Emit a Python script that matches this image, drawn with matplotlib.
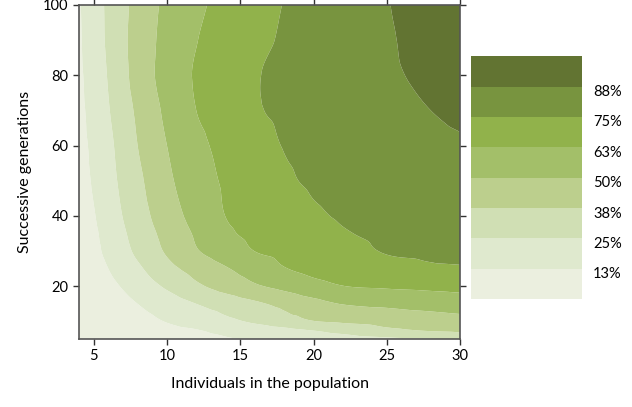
import numpy as np
import matplotlib
matplotlib.use("Agg")
import matplotlib.pyplot as plt
import matplotlib.tri as mtri
from matplotlib.colors import ListedColormap, BoundaryNorm
from matplotlib.transforms import ScaledTranslation

plt.rcParams['font.family'] = ['Lato', 'DejaVu Sans']

# Population size (x) and number of generations (y)
individuals = [4, 5, 6, 7, 8, 10, 12, 14, 16, 18, 20, 22, 25, 28, 30]
generations = [5, 7.5, 10, 15, 20, 25, 30, 35, 40, 50, 60, 70, 80, 90, 100]

# Success rate (%) per generation row, one value per population size
success = [
    [1.0, 1.5, 2.5, 3.5, 4.5, 7.0, 9.5, 11.5, 13.4, 15.5, 17.5, 19.5, 22.5, 24.6, 28.0],
    [1.5, 2.3, 3.5, 5.0, 6.5, 9.5, 12.0, 15.3, 18.7, 22.0, 25.4, 29.2, 35.0, 38.6, 40.0],
    [2.0, 3.0, 4.5, 6.5, 8.5, 13.0, 17.5, 22.0, 26.8, 31.9, 37.0, 39.0, 41.4, 43.9, 45.5],
    [3.0, 4.5, 6.5, 9.3, 12.5, 18.75, 25.0, 30.2, 35.4, 40.7, 46.0, 50.4, 52.5, 54.6, 56.0],
    [4.0, 6.5, 9.5, 13.4, 17.9, 26.7, 35.3, 42.2, 48.4, 53.2, 58.3, 62.2, 63.9, 65.1, 66.0],
    [5.5, 7.3, 12.5, 17.7, 22.9, 33.7, 42.0, 49.0, 55.4, 61.9, 65.8, 68.5, 71.5, 73.3, 73.8],
    [6.5, 9.5, 15.5, 21.4, 27.4, 39.0, 49.0, 56.1, 62.6, 65.6, 68.6, 71.6, 75.6, 76.9, 78.0],
    [7.5, 10.6, 17.0, 23.4, 29.7, 41.5, 51.5, 60.5, 65.0, 68.0, 71.0, 74.2, 77.0, 79.4, 81.0],
    [8.0, 11.8, 18.6, 25.3, 31.9, 44.2, 54.0, 62.6, 65.8, 69.6, 73.5, 76.0, 78.3, 80.4, 82.0],
    [9.0, 13.6, 20.7, 27.8, 34.7, 47.5, 56.9, 64.0, 68.1, 73.4, 76.3, 77.8, 80.0, 82.3, 84.0],
    [9.5, 14.7, 22.1, 29.7, 37.5, 50.0, 59.3, 65.9, 71.1, 75.4, 77.2, 79.0, 81.6, 84.2, 86.0],
    [10.0, 16.1, 24.2, 32.0, 39.6, 52.5, 62.5, 68.2, 73.9, 76.7, 78.9, 81.0, 84.3, 87.5, 90.0],
    [10.5, 17.5, 25.8, 34.2, 42.2, 54.8, 63.6, 68.9, 74.2, 77.1, 79.7, 82.2, 86.0, 89.6, 92.0],
    [11.0, 19.0, 27.0, 35.1, 42.4, 53.8, 62.1, 67.2, 72.1, 76.2, 79.1, 82.1, 86.5, 91.0, 94.0],
    [11.5, 19.5, 27.2, 34.6, 41.4, 52.7, 60.2, 65.9, 70.7, 75.3, 78.7, 82.0, 87.1, 91.8, 95.0],
]

levels = [0, 12.5, 25, 37.5, 50, 62.5, 75, 87.5, 100]
band_colors = ['#ebefdf', '#dfe9ce', '#d0dfb4', '#bccf8d', '#a3bf69',
               '#91b24b', '#78943f', '#627432']
level_labels = ['13%', '25%', '38%', '50%', '63%', '75%', '88%']

cmap = ListedColormap(band_colors)
norm = BoundaryNorm(levels, cmap.N)

fig = plt.figure(figsize=(6.32, 4.07), dpi=100)
ax = fig.add_axes([0.125, 0.167, 0.603, 0.821])

# Triangulate the measurement grid (in unit-square coordinates so both axes
# weigh equally) and draw a smooth cubic surface through the measurements.
x0, x1 = individuals[0], individuals[-1]
y0, y1 = generations[0], generations[-1]
X, Y = np.meshgrid(individuals, generations)
U, V = (X - x0) / (x1 - x0), (Y - y0) / (y1 - y0)
Z = np.array(success)
ny, nx = Z.shape
idx = np.arange(nx * ny).reshape(ny, nx)
a, b = idx[:-1, :-1].ravel(), idx[:-1, 1:].ravel()
c, d = idx[1:, :-1].ravel(), idx[1:, 1:].ravel()
triangles = np.concatenate([np.stack([a, b, d], 1), np.stack([a, d, c], 1)])
triang = mtri.Triangulation(U.ravel(), V.ravel(), triangles)
surface = mtri.CubicTriInterpolator(triang, Z.ravel(), kind='geom')

uf, vf = np.meshgrid(np.linspace(0, 1, 320), np.linspace(0, 1, 320))
zf = np.clip(surface(uf, vf).filled(np.nan), 0.01, 99.99)
xf = x0 + uf * (x1 - x0)
yf = y0 + vf * (y1 - y0)
cs = ax.contourf(xf, yf, zf, levels=levels, cmap=cmap, norm=norm,
                 antialiased=True)

ax.set_xlim(4, 30)
ax.set_ylim(5, 100)
ax.set_xticks([5, 10, 15, 20, 25, 30])
ax.set_yticks([20, 40, 60, 80, 100])
ax.tick_params(direction='out', length=4, width=1, colors='#333333',
               labelcolor='black', labelsize=10.5,
               top=True, right=True, labeltop=False, labelright=False)
for sp in ax.spines.values():
    sp.set_color('#555555')
    sp.set_linewidth(1.2)

ax.set_xlabel('Individuals in the population', fontsize=11.5, labelpad=10)
ax.set_ylabel('Successive generations', fontsize=11.5, labelpad=8)

# Stepped colour key
cax = fig.add_axes([0.745, 0.265, 0.176, 0.597])
cb = fig.colorbar(cs, cax=cax, ticks=levels[1:-1])
cb.outline.set_visible(False)
cb.ax.minorticks_off()
cb.ax.set_yticklabels(level_labels)
cb.ax.tick_params(length=0, pad=8, labelsize=10.5)
shift = ScaledTranslation(0, -4 / 100, fig.dpi_scale_trans)
for lbl in cb.ax.get_yticklabels():
    lbl.set_transform(lbl.get_transform() + shift)

fig.savefig('out.png', dpi=100)
